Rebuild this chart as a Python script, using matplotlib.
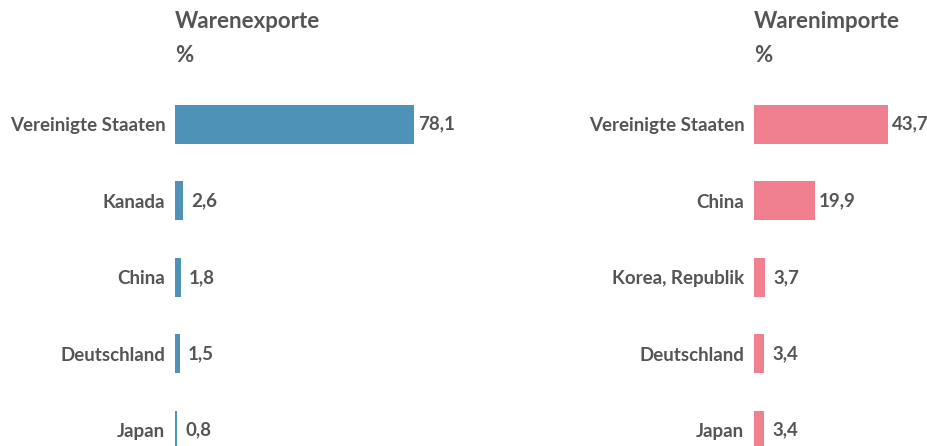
import matplotlib
matplotlib.use("Agg")
import matplotlib.pyplot as plt

export_countries = ["Vereinigte Staaten", "Kanada", "China", "Deutschland", "Japan"]
export_values = [78.1, 2.6, 1.8, 1.5, 0.8]
import_countries = ["Vereinigte Staaten", "China", "Korea, Republik", "Deutschland", "Japan"]
import_values = [43.7, 19.9, 3.7, 3.4, 3.4]
titles = ["Warenexporte", "Warenimporte"]
unit = "%"

W, H = 928, 446
DPI = 100
TXT = "#555555"
FONT = "Lato"
plt.rcParams['font.family'] = [FONT, 'DejaVu Sans']

fig = plt.figure(figsize=(W / DPI, H / DPI), dpi=DPI)

def fmt(v):
    return f"{v:.1f}".replace(".", ",")

def panel(x0, width_px, cats, vals, color, title):
    top, bottom = 86, 446
    ax = fig.add_axes([x0 / W, 1 - bottom / H, width_px / W, (bottom - top) / H])
    scale = 3.06  # px per unit
    ax.set_xlim(0, width_px / scale)
    step = 76.5
    ax.set_ylim((bottom - top) / step - 0.5, -0.5)
    ys = list(range(len(cats)))
    ax.barh(ys, vals, height=0.51, color=color)
    ax.set_yticks(ys)
    ax.set_yticklabels(cats, fontsize=13.5, fontweight="bold", color=TXT)
    ax.tick_params(axis="y", length=0, pad=7)
    ax.set_xticks([])
    for s in ax.spines.values():
        s.set_visible(False)
    for y, v in zip(ys, vals):
        off = 6.0 if v < 10 else 3.0
        ax.annotate(fmt(v), (v, y), xytext=(off, 0), textcoords="offset points",
                    va="center", ha="left", fontsize=13.5, fontweight="bold", color=TXT)
    fig.text(x0 / W, 1 - 22 / H, title, fontsize=16, fontweight="bold", color=TXT,
             va="center", ha="left")
    fig.text(x0 / W, 1 - 55 / H, unit, fontsize=16, fontweight="bold", color=TXT,
             va="center", ha="left")
    return ax

panel(175, 300, export_countries, export_values, "#4e92b8", titles[0])
panel(754, 170, import_countries, import_values, "#f07f8f", titles[1])

fig.savefig("out.png", dpi=DPI)
